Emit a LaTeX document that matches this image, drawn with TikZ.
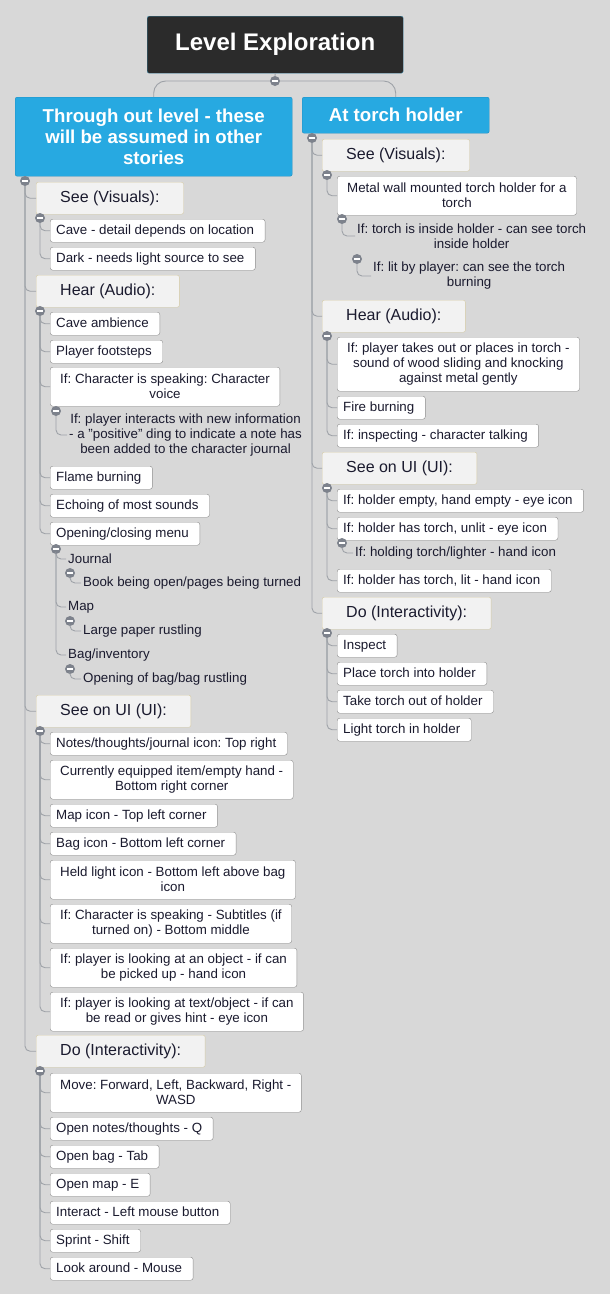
\documentclass[tikz,border=0pt]{standalone}
\usepackage{fontspec}
\setmainfont{Liberation Sans}
\usepackage{xcolor}
\usepackage{tikz}
\usetikzlibrary{positioning}
\definecolor{canvas}{HTML}{D8D8D8}
\definecolor{rootfill}{HTML}{2B2B2B}
\definecolor{rootedge}{HTML}{3D86A6}
\definecolor{branchfill}{HTML}{27A9E1}
\definecolor{branchedge}{HTML}{1F8DC0}
\definecolor{topicfill}{HTML}{F2F2F2}
\definecolor{topicedge}{HTML}{D5CAA4}
\definecolor{itemedge}{HTML}{8C8C8C}
\definecolor{inktext}{HTML}{1A1A2E}
\definecolor{linkgray}{HTML}{9EA2A8}
\definecolor{foldgray}{HTML}{7D828C}
\tikzset{
rootbox/.style={
draw=rootedge,
fill=rootfill,
text=white,
rounded corners=2pt,
anchor=north west,
minimum width=256pt,
minimum height=57pt,
font=\fontsize{24}{28}\selectfont\bfseries
},
branch/.style={
draw=branchedge,
fill=branchfill,
text=white,
rounded corners=2pt,
anchor=north west,
align=center,
inner sep=0pt,
font=\fontsize{18.67}{21}\selectfont\bfseries
},
topic/.style={
draw=topicedge,
fill=topicfill,
text=inktext,
rounded corners=2pt,
anchor=north west,
minimum height=32pt,
inner xsep=24pt,
inner ysep=0pt,
text height=11.5pt,
text depth=3.4pt,
font=\fontsize{16}{18}\selectfont
},
item/.style={
draw=itemedge,
fill=white,
text=inktext,
rounded corners=2.5pt,
anchor=north west,
minimum height=23pt,
inner xsep=6pt,
inner ysep=0pt,
text height=9.6pt,
text depth=2.8pt,
execute at end node={\kern5pt},
font=\fontsize{13.33}{15}\selectfont
},
itemwrap/.style={
draw=itemedge,
fill=white,
text=inktext,
rounded corners=2.5pt,
anchor=north west,
align=center,
minimum height=39pt,
inner xsep=10pt,
inner ysep=2pt,
font=\fontsize{13.33}{15}\selectfont
},
bare/.style={
text=inktext,
anchor=west,
align=center,
inner xsep=2pt,
inner ysep=1pt,
font=\fontsize{13.33}{15}\selectfont
},
link/.style={
draw=linkgray,
line width=0.9pt,
rounded corners=5pt
},
fold/.style={
circle,
fill=foldgray,
minimum size=10pt,
inner sep=0pt,
path picture={\draw[white,line width=1.8pt]([xshift=-2.7pt]path picture bounding box.center)--([xshift=2.7pt]path picture bounding box.center);}
}
}
\frenchspacing
\begin{document}
\begin{tikzpicture}[x=1pt,y=-1pt]
\useasboundingbox (0,0) rectangle (610,1294);
\fill[canvas] (0,0) rectangle (610,1294);

% root and the two stories
\node[rootbox] (root) at (147,16) {Level Exploration};
\node[branch,minimum width=277pt,minimum height=79pt] (thru) at (15,97) {Through out level - these\\will be assumed in other\\stories};
\node[branch,minimum width=187pt,minimum height=36pt] (torch) at (302,97) {At torch holder};

% through out level
\node[topic] (seeL) at (36,182) {See (Visuals):};
\node[item] (cave) at (50,219) {Cave - detail depends on location};
\node[item] (dark) at (50,247) {Dark - needs light source to see};
\node[topic] (hearL) at (36,275) {Hear (Audio):};
\node[item] (amb) at (50,312) {Cave ambience};
\node[item] (steps) at (50,340) {Player footsteps};
\node[itemwrap] (voice) at (50,367) {If: Character is speaking: Character\\voice};
\node[bare] (ding) at (67,435) {If: player interacts with new information\\- a "positive" ding to indicate a note has\\been added to the character journal};
\node[item] (flame) at (50,466) {Flame burning};
\node[item] (echo) at (50,494) {Echoing of most sounds};
\node[item] (menu) at (50,522) {Opening/closing menu};
\node[bare] (journal) at (66,559) {Journal};
\node[bare] (book) at (81,583) {Book being open/pages being turned};
\node[bare] (map) at (66,607) {Map};
\node[bare] (paper) at (81,631) {Large paper rustling};
\node[bare] (bag) at (66,655) {Bag/inventory};
\node[bare] (rustle) at (81,679) {Opening of bag/bag rustling};
\node[topic] (uiL) at (36,695) {See on UI (UI):};
\node[item] (notes) at (50,732) {Notes/thoughts/journal icon: Top right};
\node[itemwrap] (equip) at (50,760) {Currently equipped item/empty hand -\\Bottom right corner};
\node[item] (mapicon) at (50,804) {Map icon - Top left corner};
\node[item] (bagicon) at (50,832) {Bag icon - Bottom left corner};
\node[itemwrap] (held) at (50,860) {Held light icon - Bottom left above bag\\icon};
\node[itemwrap] (subs) at (50,904) {If: Character is speaking - Subtitles (if\\turned on) - Bottom middle};
\node[itemwrap] (pick) at (50,948) {If: player is looking at an object - if can\\be picked up - hand icon};
\node[itemwrap] (read) at (50,992) {If: player is looking at text/object - if can\\be read or gives hint - eye icon};
\node[topic] (doL) at (36,1035) {Do (Interactivity):};
\node[itemwrap] (move) at (50,1073) {Move: Forward, Left, Backward, Right -\\WASD};
\node[item] (keyq) at (50,1117) {Open notes/thoughts - Q};
\node[item] (keytab) at (50,1145) {Open bag - Tab};
\node[item] (keye) at (50,1173) {Open map - E};
\node[item] (click) at (50,1201) {Interact - Left mouse button};
\node[item] (shift) at (50,1229) {Sprint - Shift};
\node[item] (mouse) at (50,1257) {Look around - Mouse};

% at torch holder
\node[topic] (seeR) at (322,139) {See (Visuals):};
\node[itemwrap] (holder) at (337,176) {Metal wall mounted torch holder for a\\torch};
\node[bare] (inside) at (355,236) {If: torch is inside holder - can see torch\\inside holder};
\node[bare] (burn) at (371,276) {If: lit by player: can see the torch\\burning};
\node[topic] (hearR) at (322,300) {Hear (Audio):};
\node[itemwrap,minimum height=54pt] (wood) at (337,337) {If: player takes out or places in torch -\\sound of wood sliding and knocking\\against metal gently};
\node[item] (fire) at (337,396) {Fire burning};
\node[item] (talk) at (337,424) {If: inspecting - character talking};
\node[topic] (uiR) at (322,452) {See on UI (UI):};
\node[item] (empty) at (337,489) {If: holder empty, hand empty - eye icon};
\node[item] (unlit) at (337,517) {If: holder has torch, unlit - eye icon};
\node[bare] (holding) at (353,553) {If: holding torch/lighter - hand icon};
\node[item] (lit) at (337,569) {If: holder has torch, lit - hand icon};
\node[topic] (doR) at (322,597) {Do (Interactivity):};
\node[item] (inspect) at (337,634) {Inspect};
\node[item] (place) at (337,662) {Place torch into holder};
\node[item] (take) at (337,690) {Take torch out of holder};
\node[item] (light) at (337,718) {Light torch in holder};

% collapse buttons
\node[fold] (f0) at (275,81) {};
\node[fold] (fL) at (25,181) {};
\node[fold] (fR) at (312,138) {};
\node[fold] (fseeL) at (40,218) {};
\node[fold] (fhearL) at (40,311) {};
\node[fold] (fvoice) at (56,411) {};
\node[fold] (fmenu) at (56,549) {};
\node[fold] (fjournal) at (70,573) {};
\node[fold] (fmap) at (70,621) {};
\node[fold] (fbag) at (70,669) {};
\node[fold] (fuiL) at (40,731) {};
\node[fold] (fdoL) at (40,1071) {};
\node[fold] (fseeR) at (327,175) {};
\node[fold] (fholder) at (342,219) {};
\node[fold] (finside) at (357,259) {};
\node[fold] (fhearR) at (327,336) {};
\node[fold] (fuiR) at (327,488) {};
\node[fold] (funlit) at (342,543) {};
\node[fold] (fdoR) at (327,633) {};

% links
\draw[link] (root.south)--(f0.north);
\draw[link,rounded corners=12pt] (f0.west)-|(thru.north);
\draw[link,rounded corners=12pt] (f0.east)-|(torch.north);
\foreach \x in {seeL,hearL,uiL,doL}
\draw[link] (fL.south)|-(\x.west);
\foreach \x in {cave,dark}
\draw[link] (fseeL.south)|-(\x.west);
\foreach \x in {amb,steps,voice,flame,echo,menu}
\draw[link] (fhearL.south)|-(\x.west);
\draw[link] (fvoice.south)|-(ding.west);
\foreach \x in {journal,map,bag}
\draw[link] (fmenu.south)|-(\x.west);
\foreach \x/\y in {fjournal/book,fmap/paper,fbag/rustle}
\draw[link] (\x.south)|-(\y.west);
\foreach \x in {notes,equip,mapicon,bagicon,held,subs,pick,read}
\draw[link] (fuiL.south)|-(\x.west);
\foreach \x in {move,keyq,keytab,keye,click,shift,mouse}
\draw[link] (fdoL.south)|-(\x.west);
\foreach \x in {seeR,hearR,uiR,doR}
\draw[link] (fR.south)|-(\x.west);
\draw[link] (fseeR.south)|-(holder.west);
\draw[link] (fholder.south)|-(inside.west);
\draw[link] (finside.south)|-(burn.west);
\foreach \x in {wood,fire,talk}
\draw[link] (fhearR.south)|-(\x.west);
\foreach \x in {empty,unlit,lit}
\draw[link] (fuiR.south)|-(\x.west);
\draw[link] (funlit.south)|-(holding.west);
\foreach \x in {inspect,place,take,light}
\draw[link] (fdoR.south)|-(\x.west);
\end{tikzpicture}
\end{document}
